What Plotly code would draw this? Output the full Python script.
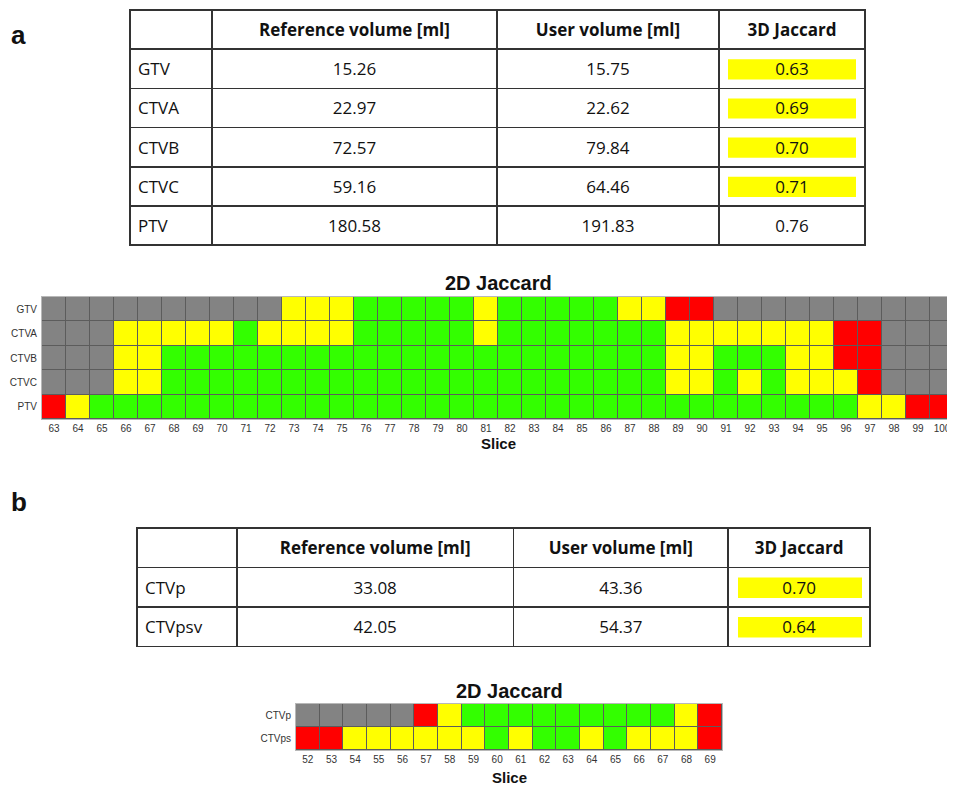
import plotly.graph_objects as go

# the page body adds an 8px margin; figure pixels = reference pixels - OFF
OFF = 8
FW, FH = 955 - OFF, 787 - OFF

# ---------------- data: panel a ----------------
structures_a = ["GTV", "CTVA", "CTVB", "CTVC", "PTV"]
ref_vol_a = [15.26, 22.97, 72.57, 59.16, 180.58]
user_vol_a = [15.75, 22.62, 79.84, 64.46, 191.83]
jaccard3d_a = [0.63, 0.69, 0.70, 0.71, 0.76]
highlight_a = [True, True, True, True, False]

# 2D Jaccard classes: 0 = not contoured (grey), 1 = low (red), 2 = medium (yellow), 3 = high (green)
slices_a = list(range(63, 101))
jac2d_gtv = [0, 0, 0, 0, 0, 0, 0, 0, 0, 0, 2, 2, 2, 3, 3, 3, 3, 3, 2, 3, 3, 3, 3, 3, 2, 2, 1, 1, 0, 0, 0, 0, 0, 0, 0, 0, 0, 0]
jac2d_ctva = [0, 0, 0, 2, 2, 2, 2, 2, 3, 2, 2, 2, 2, 3, 3, 3, 3, 3, 2, 3, 3, 3, 3, 3, 3, 3, 2, 2, 2, 2, 2, 2, 2, 1, 1, 0, 0, 0]
jac2d_ctvb = [0, 0, 0, 2, 2, 3, 3, 3, 3, 3, 3, 3, 3, 3, 3, 3, 3, 3, 3, 3, 3, 3, 3, 3, 3, 3, 2, 2, 3, 3, 3, 2, 2, 1, 1, 0, 0, 0]
jac2d_ctvc = [0, 0, 0, 2, 2, 3, 3, 3, 3, 3, 3, 3, 3, 3, 3, 3, 3, 3, 3, 3, 3, 3, 3, 3, 3, 3, 2, 2, 3, 2, 3, 2, 2, 2, 1, 0, 0, 0]
jac2d_ptv = [1, 2, 3, 3, 3, 3, 3, 3, 3, 3, 3, 3, 3, 3, 3, 3, 3, 3, 3, 3, 3, 3, 3, 3, 3, 3, 3, 3, 3, 3, 3, 3, 3, 3, 2, 2, 1, 1]

# ---------------- data: panel b ----------------
structures_b = ["CTVp", "CTVpsv"]
ref_vol_b = [33.08, 42.05]
user_vol_b = [43.36, 54.37]
jaccard3d_b = [0.70, 0.64]
highlight_b = [True, True]

slices_b = list(range(52, 70))
rows_b = ["CTVp", "CTVps"]
jac2d_ctvp = [0, 0, 0, 0, 0, 1, 2, 3, 3, 3, 3, 3, 3, 3, 3, 3, 2, 1]
jac2d_ctvps = [1, 1, 2, 2, 2, 2, 2, 2, 3, 2, 3, 3, 2, 3, 2, 2, 2, 1]

headers = ["", "Reference volume [ml]", "User volume [ml]", "3D Jaccard"]

# ---------------- styling ----------------
C_GREY, C_RED, C_YEL, C_GRN = "#838383", "#ff0000", "#ffff00", "#33ff00"
colorscale = [[0.0, C_GREY], [0.25, C_GREY], [0.25, C_RED], [0.5, C_RED],
              [0.5, C_YEL], [0.75, C_YEL], [0.75, C_GRN], [1.0, C_GRN]]
TFONT = "Open Sans"
HFONT = "Liberation Sans, Arial, sans-serif"


def fx(px):
    return (px - OFF) / FW


def fy(py):
    return 1 - (py - OFF) / FH


fig = go.Figure()
shapes = []
annotations = []


def add_table(x0, x1, y_top, col_px, row_h, names, ref, user, jac, hl):
    n = len(names)
    y_bot = y_top + (n + 1) * row_h
    clear = "rgba(0,0,0,0)"
    fmt = lambda s: "<span>%s</span>" % s
    hdr = lambda s: "<b>%s</b>" % s
    columns = [
        [""] + [fmt(s) for s in names],
        [hdr(headers[1])] + [fmt("%.2f" % v) for v in ref],
        [hdr(headers[2])] + [fmt("%.2f" % v) for v in user],
        [hdr(headers[3])] + [fmt("%.2f" % v) for v in jac],
    ]
    fig.add_trace(go.Table(
        domain=dict(x=[fx(x0), fx(x1)], y=[fy(y_bot + 1), fy(y_top)]),
        columnwidth=col_px,
        header=dict(values=columns,
                    height=row_h, align=["left", "center", "center", "center"],
                    font=dict(family=TFONT, size=17, color="#111"),
                    fill_color=clear, line=dict(color="#333", width=1.5)),
    ))
    # highlight boxes inside the 3D Jaccard cells
    c0 = x0 + sum(col_px[:3])
    c1 = x0 + sum(col_px)
    for i, flag in enumerate(hl):
        if flag:
            r0 = y_top + (i + 1) * row_h
            shapes.append(dict(type="rect", xref="paper", yref="paper", layer="below",
                               x0=fx(c0 + 9), x1=fx(c1 - 9),
                               y0=fy(r0 + row_h - 9), y1=fy(r0 + 10),
                               fillcolor=C_YEL, line=dict(width=0)))


add_table(130, 865, 10, [82, 285, 222, 146], 39.2,
          structures_a, ref_vol_a, user_vol_a, jaccard3d_a, highlight_a)
add_table(137, 871, 528, [100, 277, 215, 142], 39.5,
          structures_b, ref_vol_b, user_vol_b, jaccard3d_b, highlight_b)

# ---------------- heatmaps ----------------
fig.add_trace(go.Heatmap(
    z=[jac2d_gtv, jac2d_ctva, jac2d_ctvb, jac2d_ctvc, jac2d_ptv],
    x=slices_a, y=structures_a, zmin=0, zmax=3, colorscale=colorscale,
    showscale=False, xgap=1, ygap=1, xaxis="x", yaxis="y", hoverinfo="x+y+z"))
fig.add_trace(go.Heatmap(
    z=[jac2d_ctvp, jac2d_ctvps],
    x=slices_b, y=rows_b, zmin=0, zmax=3, colorscale=colorscale,
    showscale=False, xgap=1, ygap=1, xaxis="x2", yaxis="y2", hoverinfo="x+y+z"))

HA = dict(x0=42, x1=954, y0=297, y1=419)
HB = dict(x0=296, x1=722, y0=704, y1=750)

axis_common = dict(showgrid=False, zeroline=False, ticks="", showline=True,
                   linecolor="#b8b8b8", linewidth=1, mirror=True,
                   tickfont=dict(family=HFONT, size=10, color="#333"))

fig.update_layout(
    xaxis=dict(domain=[fx(HA["x0"]), fx(HA["x1"])], anchor="y",
               tickmode="array", tickvals=slices_a, ticktext=[str(s) for s in slices_a],
               range=[slices_a[0] - 0.5, slices_a[-1] + 0.5], **axis_common),
    yaxis=dict(domain=[fy(HA["y1"]), fy(HA["y0"])], anchor="x",
               autorange="reversed", ticklabelstandoff=2, **axis_common),
    xaxis2=dict(domain=[fx(HB["x0"]), fx(HB["x1"])], anchor="y2",
                tickmode="array", tickvals=slices_b, ticktext=[str(s) for s in slices_b],
                range=[slices_b[0] - 0.5, slices_b[-1] + 0.5], **axis_common),
    yaxis2=dict(domain=[fy(HB["y1"]), fy(HB["y0"])], anchor="x2",
                autorange="reversed", ticklabelstandoff=2, **axis_common),
)

for hm, ty, sy in [(HA, 283, 443), (HB, 691, 777)]:
    cx = fx((hm["x0"] + hm["x1"]) / 2)
    annotations.append(dict(text="<b>2D Jaccard</b>", x=cx, y=fy(ty), xref="paper", yref="paper",
                            xanchor="center", yanchor="middle", showarrow=False,
                            font=dict(family=HFONT, size=20, color="#111")))
    annotations.append(dict(text="<b>Slice</b>", x=cx, y=fy(sy), xref="paper", yref="paper",
                            xanchor="center", yanchor="middle", showarrow=False,
                            font=dict(family=HFONT, size=15, color="#111")))

for lab, ly in [("a", 35), ("b", 502)]:
    annotations.append(dict(text="<b>%s</b>" % lab, x=fx(9), y=fy(ly), xref="paper", yref="paper",
                            xanchor="left", yanchor="middle", showarrow=False,
                            font=dict(family=HFONT, size=26, color="#111")))

fig.update_layout(
    width=FW, height=FH, margin=dict(l=0, r=0, t=0, b=0),
    paper_bgcolor="white", plot_bgcolor="#5c5c5c",
    shapes=shapes, annotations=annotations, showlegend=False,
)

fig.write_html("out.html")
